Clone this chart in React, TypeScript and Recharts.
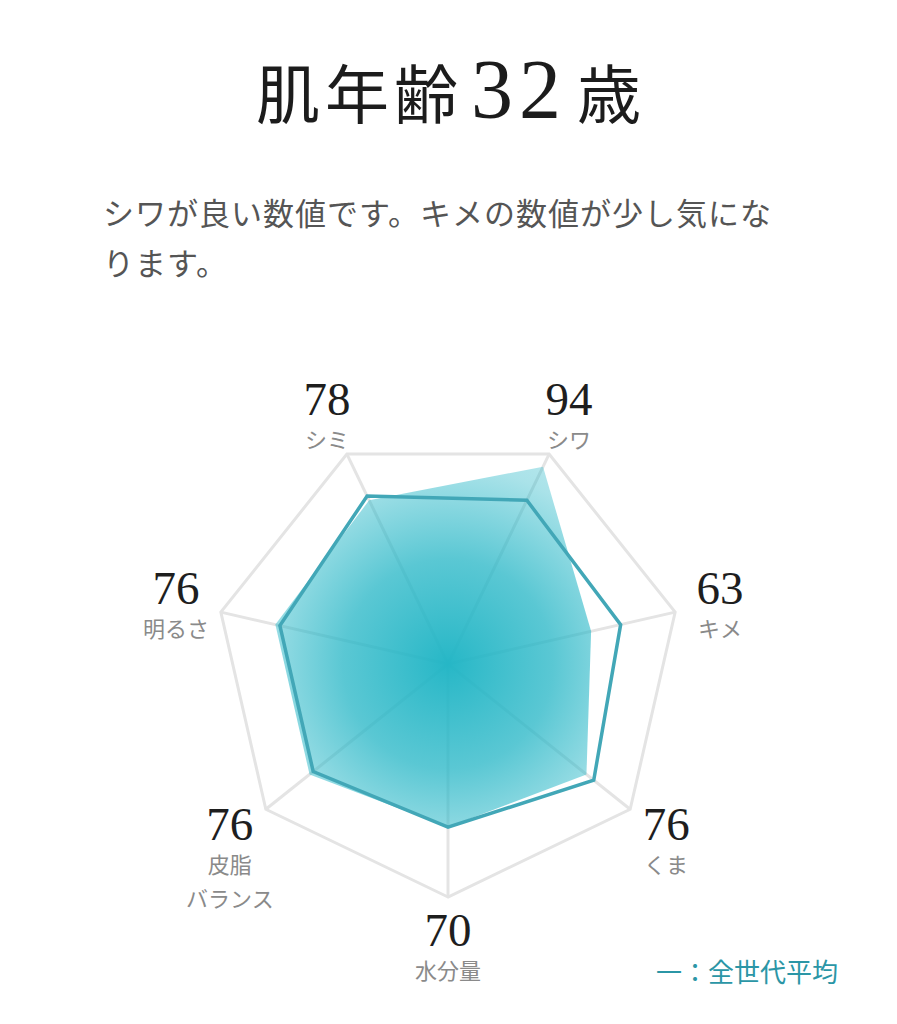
import React from 'react';
import { RadarChart, Radar, PolarGrid, PolarAngleAxis, PolarRadiusAxis } from 'recharts';

const categories = ['水分量', '皮脂バランス', '明るさ', 'シミ', 'シワ', 'キメ', 'くま'];
const tickLabels = [['水分量'], ['皮脂', 'バランス'], ['明るさ'], ['シミ'], ['シワ'], ['キメ'], ['くま']];
const userScores = [70, 76, 76, 78, 94, 63, 76];
const averageScores = [70, 74, 74, 80, 78, 76, 80];

const titleMain = '肌年齢';
const titleAge = '32';
const titleUnit = '歳';
const commentLines = ['シワが良い数値です。キメの数値が少し気にな', 'ります。'];
const legendText = '一：全世代平均';

const W = 897;
const H = 1024;
const CX = 448;
const CY = 664;
const R = 233;

const data = categories.map((subject, i) => ({
  subject,
  score: userScores[i],
  average: averageScores[i],
}));

const renderTick = (props: any) => {
  const { x, y, payload } = props;
  const idx = categories.indexOf(payload.value);
  let dx = x - CX;
  let dy = y - CY;
  const len = Math.hypot(dx, dy) || 1;
  dx /= len;
  dy /= len;
  const vx = CX + R * dx;
  const vy = CY + R * dy;
  const bx = vx + 46 * dx;
  const by = vy + 46 * dy + 7;
  const numCenter = by - 20.5;
  const labelCenter = by + 20.5;
  const lines = tickLabels[idx] || [payload.value];
  return (
    <g>
      <text
        x={bx}
        y={numCenter + 16}
        textAnchor="middle"
        fontFamily="'Liberation Serif', 'DejaVu Serif', serif"
        fontSize={47}
        fill="#1e1e1e"
      >
        {userScores[idx]}
      </text>
      {lines.map((ln, j) => (
        <text
          key={j}
          x={bx}
          y={labelCenter + 8 + j * 34}
          textAnchor="middle"
          fontFamily="'Noto Sans CJK JP', 'Noto Sans', sans-serif"
          fontSize={22}
          fill="#8a8a8a"
        >
          {ln}
        </text>
      ))}
    </g>
  );
};

export default function App() {
  return (
    <div style={{ position: 'absolute', left: 0, top: 0, width: W, height: H, background: '#ffffff' }}>
      <svg style={{ position: 'absolute', left: 0, top: 0 }} width={W} height={H}>
        <text x={W / 2} y={118} textAnchor="middle" fill="#1c1c1c">
          <tspan fontFamily="'Noto Sans CJK JP', sans-serif" fontSize={64} letterSpacing={5}>
            {titleMain}
          </tspan>
          <tspan fontFamily="'Liberation Serif', serif" fontSize={84} letterSpacing={6} dx={8}>
            {titleAge}
          </tspan>
          <tspan fontFamily="'Noto Sans CJK JP', sans-serif" fontSize={64} dx={10}>
            {titleUnit}
          </tspan>
        </text>
        {commentLines.map((ln, i) => (
          <text
            key={i}
            x={103}
            y={225 + i * 50}
            fontFamily="'Noto Sans CJK JP', sans-serif"
            fontSize={31}
            letterSpacing={1}
            fill="#555555"
          >
            {ln}
          </text>
        ))}
        <text
          x={656}
          y={982}
          fontFamily="'Noto Sans CJK JP', sans-serif"
          fontSize={26}
          fill="#2b96a6"
        >
          {legendText}
        </text>
      </svg>
      <div style={{ position: 'absolute', left: 0, top: 0 }}>
        <RadarChart
          width={W}
          height={H}
          data={data}
          cx={CX}
          cy={CY}
          outerRadius={R}
          startAngle={-90}
          endAngle={-450}
          margin={{ top: 0, right: 0, bottom: 0, left: 0 }}
        >
          <defs>
            <radialGradient id="skinFill" gradientUnits="userSpaceOnUse" cx={CX} cy={CY} r={R}>
              <stop offset="0%" stopColor="#20b5c5" stopOpacity={0.97} />
              <stop offset="45%" stopColor="#26b6c6" stopOpacity={0.76} />
              <stop offset="85%" stopColor="#2ab8c8" stopOpacity={0.4} />
              <stop offset="100%" stopColor="#2ab8c8" stopOpacity={0.34} />
            </radialGradient>
          </defs>
          <PolarGrid stroke="#e4e4e4" strokeWidth={3} />
          <PolarRadiusAxis domain={[0, 100]} tick={false} axisLine={false} tickCount={2} />
          <PolarAngleAxis dataKey="subject" tick={renderTick} tickLine={false} axisLine={false} />
          <Radar
            dataKey="score"
            fill="url(#skinFill)"
            fillOpacity={1}
            stroke="none"
            isAnimationActive={false}
          />
          <Radar
            dataKey="average"
            fill="none"
            fillOpacity={0}
            stroke="#42a7b7"
            strokeWidth={3.5}
            isAnimationActive={false}
          />
        </RadarChart>
      </div>
    </div>
  );
}
